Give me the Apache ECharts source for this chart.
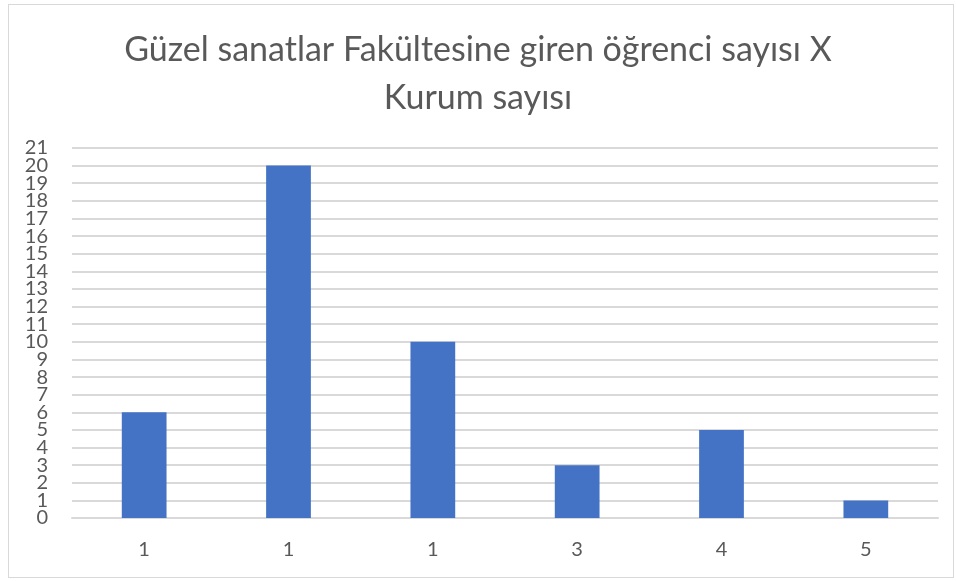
<!DOCTYPE html>
<html>
<head>
<meta charset="utf-8">
<script src="https://cdn.jsdelivr.net/npm/echarts@6/dist/echarts.min.js"></script>
<style>
    html, body { margin: 0; padding: 0; background: #fff; }
    #wrap { position: absolute; left: 8px; top: 4px; width: 946px; height: 574px; border: 1px solid #d9d9d9; box-sizing: border-box; }
    #chart { position: absolute; left: 0; top: 0; width: 956px; height: 581px; }
</style>
</head>
<body>
<div id="wrap"></div>
<div id="chart"></div>
<script>
// veriler
var categories = ['1', '1', '1', '3', '4', '5'];
var values = [6, 20, 10, 3, 5, 1];
var yMin = 0;
var yMax = 21;
var titleText = 'Güzel sanatlar Fakültesine giren öğrenci sayısı X\nKurum sayısı';

var labelStyle = {
    fontFamily: 'Lato',
    fontSize: 20,
    color: '#595959'
};

// kucuk extend yardimcisi
var $ = {
    extend: function(a, b) {
        for (var k in b) a[k] = b[k];
        return a;
    }
};

function drawChart() {
    var myChart = echarts.init(document.getElementById('chart'));
    var option = {
        animation: false,
        color: ['#4472C4'],
        title: {
            text: titleText,
            left: 'center',
            top: 21,
            textStyle: {
                fontFamily: 'Lato',
                fontWeight: 'normal',
                fontSize: 34,
                color: '#595959',
                lineHeight: 48
            }
        },
        grid: {
            left: 72,
            right: 18,
            top: 148,
            bottom: 63
        },
        xAxis: {
            type: 'category',
            data: categories,
            axisLine: { lineStyle: { color: '#d9d9d9', width: 2 } },
            axisTick: { show: false },
            axisLabel: $.extend({ margin: 22 }, labelStyle)
        },
        yAxis: [{
            // ara etiketler 1..20
            type: 'value',
            position: 'left',
            min: yMin,
            max: yMax,
            interval: 1,
            axisLine: { show: false },
            axisTick: { show: false },
            axisLabel: $.extend({ margin: 24, showMinLabel: false, showMaxLabel: false }, labelStyle),
            splitLine: { lineStyle: { color: '#d9d9d9', width: 2 } }
        }, {
            // sadece 0 ve 21
            type: 'value',
            position: 'left',
            offset: 0,
            min: yMin,
            max: yMax,
            interval: 1,
            axisLine: { show: false },
            axisTick: { show: false },
            splitLine: { show: false },
            axisLabel: $.extend({
                margin: 24,
                showMinLabel: true,
                showMaxLabel: true,
                formatter: function(v) {
                    return (v === yMin || v === yMax) ? String(v) : '';
                }
            }, labelStyle)
        }],
        series: [{
            type: 'bar',
            barWidth: '31%',
            data: values
        }]
    };
    myChart.setOption(option);
}

drawChart();
</script>
</body>
</html>
